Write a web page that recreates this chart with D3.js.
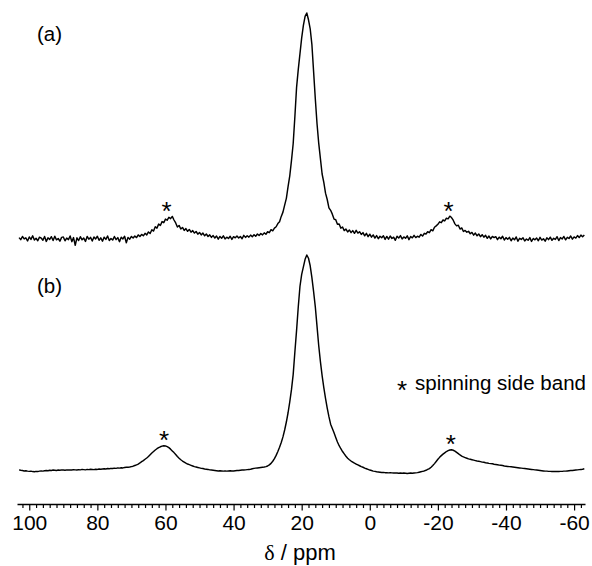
<!DOCTYPE html>
<html>
<head>
<meta charset="utf-8">
<script src="https://cdn.jsdelivr.net/npm/d3@7/dist/d3.min.js"></script>
<style>
  html, body { margin: 0; padding: 0; background: #fff; }
  svg { display: block; }
  text { font-family: "Liberation Sans", Arial, sans-serif; fill: #000; }
</style>
</head>
<body>
<svg id="chart" width="592" height="566"></svg>
<script>
// ---- DATA ----
// chemical shift grid: first point and spacing (ppm)
const ppmStart = 103;
const ppmStep = 0.5;

// spectrum (a): normalised intensity (main peak = 100), one value per 0.5 ppm from 103 to -63
const spectrumA = [
  /* 103 */ 0.4, -0.5, 0.9, -0.2, 0.3, -1.1, 0.7, -0.4,
  /*  99 */ 1.2, -0.7, 0.1, -1.0, 0.6, 0.2, -0.8, 0.9,
  /*  95 */ -1.3, 0.3, -0.4, 0.8, -0.9, 1.0, -0.6, 0.0,
  /*  91 */ -1.2, 0.5, 0.7, -1.0, 0.2, -0.5, 1.1, -1.4,
  /*  87 */ 0.4, -3.0, 0.3, -0.9, 0.8, -0.6, 0.2, -1.3,
  /*  83 */ 0.9, -0.3, 0.5, -1.1, 0.7, -0.2, 1.0, -0.8,
  /*  79 */ 0.3, -1.2, 0.6, -0.4, 1.1, -0.9, 0.0, -0.7,
  /*  75 */ 0.9, -0.5, 0.4, -1.4, 0.6, -0.2, 1.0, -1.9,
  /*  71 */ 0.5, -0.3, 0.9, 0.2, 1.1, 0.4, 1.6, 0.9,
  /*  67 */ 1.8, 1.2, 2.3, 1.6, 2.9, 2.2, 3.9, 3.3,
  /*  63 */ 5.2, 4.6, 6.4, 5.8, 7.5, 7.0, 8.6, 8.1,
  /*  59 */ 9.4, 8.8, 9.8, 8.2, 6.9, 5.1, 5.8, 4.2,
  /*  55 */ 4.9, 3.6, 4.4, 3.2, 4.0, 2.8, 3.5, 2.4,
  /*  51 */ 3.1, 1.9, 2.7, 1.6, 2.4, 1.2, 2.0, 0.9,
  /*  47 */ 1.6, 0.5, 1.3, 0.2, 1.1, -0.3, 0.9, 0.1,
  /*  43 */ 1.2, -0.2, 0.6, 0.0, 1.0, -0.4, 0.8, 0.3,
  /*  39 */ 1.1, 0.2, 0.9, -0.1, 1.4, 0.5, 1.2, 0.6,
  /*  35 */ 1.5, 0.8, 1.7, 1.0, 2.0, 1.3, 2.2, 1.6,
  /*  31 */ 2.5, 1.9, 3.0, 2.6, 3.9, 3.4, 4.6, 5.2,
  /*  27 */ 6.6, 7.4, 9.8, 11.7, 14.8, 17.8, 23.0, 27.8,
  /*  23 */ 34.5, 42, 54, 67, 75, 82, 89, 94.5,
  /*  19 */ 98.5, 100, 97, 93, 86, 74, 62, 51,
  /*  15 */ 42.3, 35.4, 28.6, 24.9, 20.1, 17.3, 13.6, 12.5,
  /*  11 */ 10.8, 8.6, 8.3, 6.3, 6.4, 4.6, 5.1, 3.5,
  /*   7 */ 4.2, 2.9, 3.8, 2.6, 3.5, 2.3, 3.6, 2.4,
  /*   3 */ 3.0, 1.8, 2.6, 1.2, 2.3, 0.8, 1.9, 0.6,
  /*  -1 */ 1.6, 0.2, 1.3, -0.1, 1.0, 0.3, 1.2, -0.4,
  /*  -5 */ 0.9, -0.3, 1.1, 0.0, 0.6, -0.8, 1.0, 0.2,
  /*  -9 */ 1.3, -0.2, 0.7, 0.1, 1.2, -0.5, 0.9, 0.3,
  /* -13 */ 1.4, 0.4, 1.0, 0.6, 1.8, 1.1, 2.3, 2.0,
  /* -17 */ 3.0, 2.6, 3.9, 3.4, 5.0, 5.6, 6.3, 7.4,
  /* -21 */ 7.0, 8.2, 7.8, 9.0, 8.7, 9.9, 9.3, 8.1,
  /* -25 */ 6.5, 5.6, 5.9, 4.2, 4.7, 3.1, 3.6, 2.8,
  /* -29 */ 3.2, 2.1, 2.7, 1.5, 2.4, 1.2, 2.0, 0.8,
  /* -33 */ 1.7, 0.6, 1.4, 0.1, 1.1, -0.2, 0.9, 0.4,
  /* -37 */ 0.8, -0.5, 0.6, -0.1, 1.0, -0.7, 0.4, -0.3,
  /* -41 */ 0.5, -1.0, 0.2, -0.6, 0.7, -1.2, 0.1, -0.4,
  /* -45 */ 0.3, -1.1, -0.2, -0.8, 0.4, -1.3, 0.0, -0.6,
  /* -49 */ 0.2, -1.0, 0.5, -0.7, -0.1, -1.2, 0.3, -0.5,
  /* -53 */ 0.6, -0.8, 0.1, -0.4, 0.8, -0.9, 0.4, -0.2,
  /* -57 */ 0.9, -0.6, 0.5, 0.0, 1.1, -0.3, 0.7, 0.2,
  /* -61 */ 1.3, 0.4, 1.5, 0.8, 1.6
];

// spectrum (b): normalised intensity (main peak = 100), same grid
const spectrumB = [
  /* 103 */ 0.3, 0.1, 0.0, -0.2, -0.1, -0.3, -0.4, -0.3,
  /*  99 */ -0.5, -0.6, -0.4, -0.5, -0.3, -0.2, -0.3, -0.1,
  /*  95 */ 0.0, -0.1, 0.1, 0.0, 0.2, 0.1, 0.0, 0.2,
  /*  91 */ 0.1, 0.3, 0.2, 0.1, 0.3, 0.2, 0.3, 0.2,
  /*  87 */ 0.4, 0.3, 0.2, 0.4, 0.3, 0.5, 0.4, 0.3,
  /*  83 */ 0.5, 0.4, 0.6, 0.5, 0.4, 0.6, 0.5, 0.7,
  /*  79 */ 0.6, 0.7, 0.8, 0.7, 0.9, 0.8, 1.0, 0.9,
  /*  75 */ 1.1, 1.0, 1.2, 1.1, 1.3, 1.2, 1.4, 1.5,
  /*  71 */ 1.5, 1.6, 1.8, 2.0, 2.3, 2.6, 3.0, 3.5,
  /*  67 */ 4.1, 4.6, 5.2, 5.8, 6.5, 7.3, 8.1, 8.8,
  /*  63 */ 9.5, 10.1, 10.6, 11.0, 11.3, 11.5, 11.4, 11.1,
  /*  59 */ 10.6, 9.9, 9.1, 8.3, 7.4, 6.5, 5.7, 5.0,
  /*  55 */ 4.4, 3.9, 3.4, 3.0, 2.7, 2.4, 2.1, 1.8,
  /*  51 */ 1.6, 1.4, 1.2, 1.0, 0.9, 0.7, 0.6, 0.5,
  /*  47 */ 0.3, 0.2, 0.1, 0.0, -0.1, -0.2, -0.1, -0.2,
  /*  43 */ -0.3, -0.2, -0.3, -0.2, -0.1, -0.2, -0.2, -0.1,
  /*  39 */ 0.0, 0.0, 0.1, 0.2, 0.2, 0.3, 0.4, 0.5,
  /*  35 */ 0.6, 0.8, 1.0, 1.1, 1.2, 1.3, 1.4, 1.5,
  /*  31 */ 1.6, 1.8, 2.1, 2.6, 3.3, 4.3, 5.5, 7.0,
  /*  27 */ 8.8, 10.8, 13.0, 15.6, 18.8, 22.5, 26.8, 31.8,
  /*  23 */ 37.5, 44.5, 55, 65, 76, 85.5, 91, 94.5,
  /*  19 */ 98, 100, 98.5, 95, 89.5, 83, 76, 67,
  /*  15 */ 58, 50.5, 44, 38.5, 33.5, 29, 25, 21.5,
  /*  11 */ 19.5, 17.5, 15.3, 13.2, 11.5, 10.1, 8.8, 7.7,
  /*   7 */ 6.6, 5.7, 5.0, 4.4, 3.9, 3.4, 3.0, 2.6,
  /*   3 */ 2.2, 1.8, 1.5, 1.1, 0.8, 0.5, 0.2, 0.0,
  /*  -1 */ -0.3, -0.4, -0.6, -0.7, -0.8, -0.9, -0.9, -1.0,
  /*  -5 */ -1.0, -1.1, -1.0, -1.1, -1.2, -1.1, -1.2, -1.3,
  /*  -9 */ -1.2, -1.3, -1.2, -1.3, -1.4, -1.3, -1.2, -1.3,
  /* -13 */ -1.2, -1.1, -1.0, -0.8, -0.6, -0.4, -0.2, 0.1,
  /* -17 */ 0.5, 0.9, 1.5, 2.3, 3.2, 4.2, 5.2, 6.1,
  /* -21 */ 6.9, 7.6, 8.2, 8.8, 9.2, 9.5, 9.6, 9.4,
  /* -25 */ 9.0, 8.4, 7.8, 7.2, 6.7, 6.3, 6.0, 5.7,
  /* -29 */ 5.4, 5.2, 5.0, 4.8, 4.6, 4.4, 4.3, 4.1,
  /* -33 */ 3.9, 3.8, 3.6, 3.5, 3.3, 3.2, 3.1, 2.9,
  /* -37 */ 2.8, 2.7, 2.5, 2.4, 2.3, 2.1, 2.0, 1.9,
  /* -41 */ 1.8, 1.7, 1.6, 1.5, 1.4, 1.3, 1.2, 1.1,
  /* -45 */ 1.0, 0.9, 0.8, 0.7, 0.6, 0.5, 0.4, 0.3,
  /* -49 */ 0.2, 0.1, 0.0, -0.1, -0.2, -0.3, -0.3, -0.4,
  /* -53 */ -0.4, -0.5, -0.5, -0.5, -0.5, -0.5, -0.4, -0.4,
  /* -57 */ -0.3, -0.3, -0.2, -0.1, 0.0, 0.0, 0.1, 0.2,
  /* -61 */ 0.3, 0.4, 0.5, 0.6, 0.8
];

// spinning side band markers: [ppm, intensity of band top]
const sidebandsA = [[59.7, 9.7], [-23.1, 9.7]];
const sidebandsB = [[60.4, 11.4], [-23.8, 9.6]];

// axis ticks
const majorTicks = [100, 80, 60, 40, 20, 0, -20, -40, -60];
const panelLabels = ["(a)", "(b)"];
const legendText = "spinning side band";
const axisTitle = ["δ", " / ppm"];

// ---- DRAWING ----
const svg = d3.select("#chart");

const x = d3.scaleLinear().domain([103.6, -63.2]).range([17, 585]);
const yA = d3.scaleLinear().domain([0, 100]).range([238.5, 13]);
const yB = d3.scaleLinear().domain([0, 100]).range([470.5, 255]);

const ppm = spectrumA.map((_, i) => ppmStart - i * ppmStep);

function drawSpectrum(values, y) {
  const line = d3.line()
    .x((d, i) => x(ppm[i]))
    .y(d => y(d));
  svg.append("path")
    .datum(values)
    .attr("d", line)
    .attr("fill", "none")
    .attr("stroke", "#000")
    .attr("stroke-width", 1.45)
    .attr("stroke-linejoin", "round");
}
drawSpectrum(spectrumA, yA);
drawSpectrum(spectrumB, yB);

// side band asterisks
function drawStars(list, y) {
  svg.append("g").selectAll("text")
    .data(list).join("text")
    .attr("x", d => x(d[0]))
    .attr("y", d => y(d[1]) + 3)
    .attr("text-anchor", "middle")
    .attr("font-size", 26)
    .text("*");
}
drawStars(sidebandsA, yA);
drawStars(sidebandsB, yB);

// panel labels
svg.append("text").attr("x", 37).attr("y", 41).attr("font-size", 20.5).text(panelLabels[0]);
svg.append("text").attr("x", 37).attr("y", 293).attr("font-size", 20.5).text(panelLabels[1]);

// legend
svg.append("text").attr("x", 402).attr("y", 398.5).attr("text-anchor", "middle")
  .attr("font-size", 26).text("*");
svg.append("text").attr("x", 415).attr("y", 390).attr("font-size", 20.5).text(legendText);

// x axis
const axisY = 504;
const minorTicks = d3.range(102, -64, -2).filter(v => v % 20 !== 0);
const gMinor = svg.append("g").attr("transform", `translate(0,${axisY})`)
  .call(d3.axisBottom(x).tickValues(minorTicks).tickSize(4).tickSizeOuter(0).tickFormat(""));
gMinor.select(".domain").remove();
const gMajor = svg.append("g").attr("transform", `translate(0,${axisY})`)
  .call(d3.axisBottom(x).tickValues(majorTicks).tickSize(6.5).tickSizeOuter(0)
    .tickPadding(5).tickFormat(d => String(d)));
svg.selectAll(".tick line").attr("stroke", "#000").attr("stroke-width", 1.2);
gMajor.select(".domain").attr("stroke", "#000").attr("stroke-width", 1.5);
gMajor.selectAll(".tick text")
  .attr("font-family", "'Liberation Sans', Arial, sans-serif")
  .attr("font-size", 21).attr("fill", "#000");

// axis title
const title = svg.append("text").attr("x", 300).attr("y", 560)
  .attr("text-anchor", "middle").attr("font-size", 22);
title.append("tspan").attr("font-family", "'Liberation Serif', 'Times New Roman', serif").text(axisTitle[0]);
title.append("tspan").text(axisTitle[1]);
</script>
</body>
</html>
